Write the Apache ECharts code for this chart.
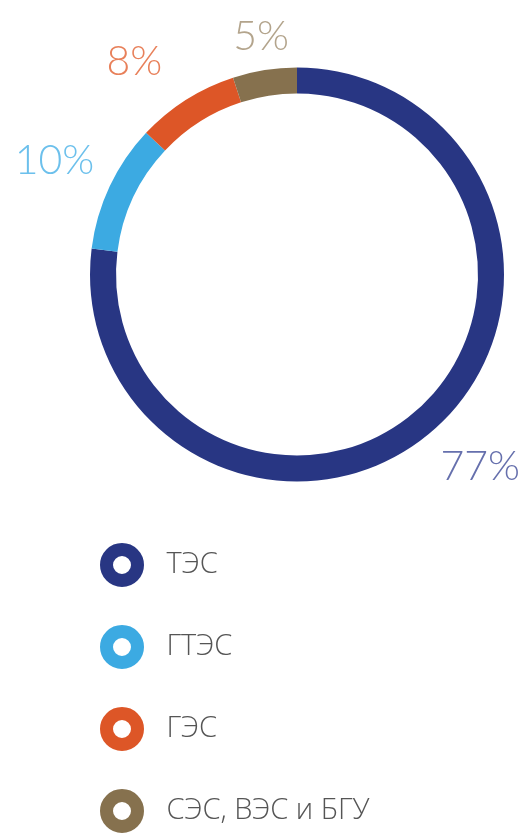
<!DOCTYPE html>
<html>
<head>
<meta charset="utf-8">
<script src="https://cdn.jsdelivr.net/npm/echarts@6/dist/echarts.min.js"></script>
<style>
  html, body { margin: 0; padding: 0; background: #fff; }
  #main { width: 524px; height: 834px; }
</style>
</head>
<body>
<div id="main"></div>
<script>
var names = ["ТЭС", "ГТЭС", "ГЭС", "СЭС, ВЭС и БГУ"];
var shares = [77, 10, 8, 5];
var colors = ["#283683", "#3caae2", "#dd5627", "#86714e"];
var labelColors = ["#6670ad", "#6cc0ec", "#e8805a", "#b3a48c"];
// small nudges so the labels sit where the original has them
var labelOffsets = [[6, -9], [0, 0], [-19, 14], [6, 27]];

var chart = echarts.init(document.getElementById("main"));

var ringData = names.map(function (n, i) {
  return { name: n, value: shares[i], itemStyle: { color: colors[i] } };
});
var labelData = names.map(function (n, i) {
  return {
    name: n,
    value: shares[i],
    label: { color: labelColors[i], offset: labelOffsets[i] }
  };
});

chart.setOption({
  backgroundColor: "#fff",
  animation: false,
  legend: {
    orient: "vertical",
    left: 100,
    top: 543,
    height: 400,
    padding: 0,
    itemWidth: 31,
    itemHeight: 31,
    itemGap: 38,
    icon: "circle",
    selectedMode: false,
    textStyle: {
      color: "#555",
      fontFamily: "Open Sans",
      fontWeight: 300,
      fontSize: 29,
      lineHeight: 30,
      padding: [0, 0, 0, 24]
    },
    data: names.map(function (n, i) {
      return {
        name: n,
        itemStyle: { color: "#fff", borderColor: colors[i], borderWidth: 13 }
      };
    })
  },
  series: [
    {
      type: "pie",
      center: [297, 274.5],
      radius: [181, 207],
      startAngle: 90,
      clockwise: true,
      silent: true,
      label: { show: false },
      labelLine: { show: false },
      data: ringData
    },
    {
      type: "pie",
      center: [297, 274.5],
      radius: [240, 290],
      startAngle: 90,
      clockwise: true,
      silent: true,
      legendHoverLink: false,
      itemStyle: { color: "rgba(0,0,0,0)" },
      label: {
        show: true,
        position: "inside",
        formatter: "{c}%",
        fontFamily: "Lato",
        fontWeight: 300,
        fontSize: 41
      },
      labelLine: { show: false },
      data: labelData
    }
  ]
});
</script>
</body>
</html>
